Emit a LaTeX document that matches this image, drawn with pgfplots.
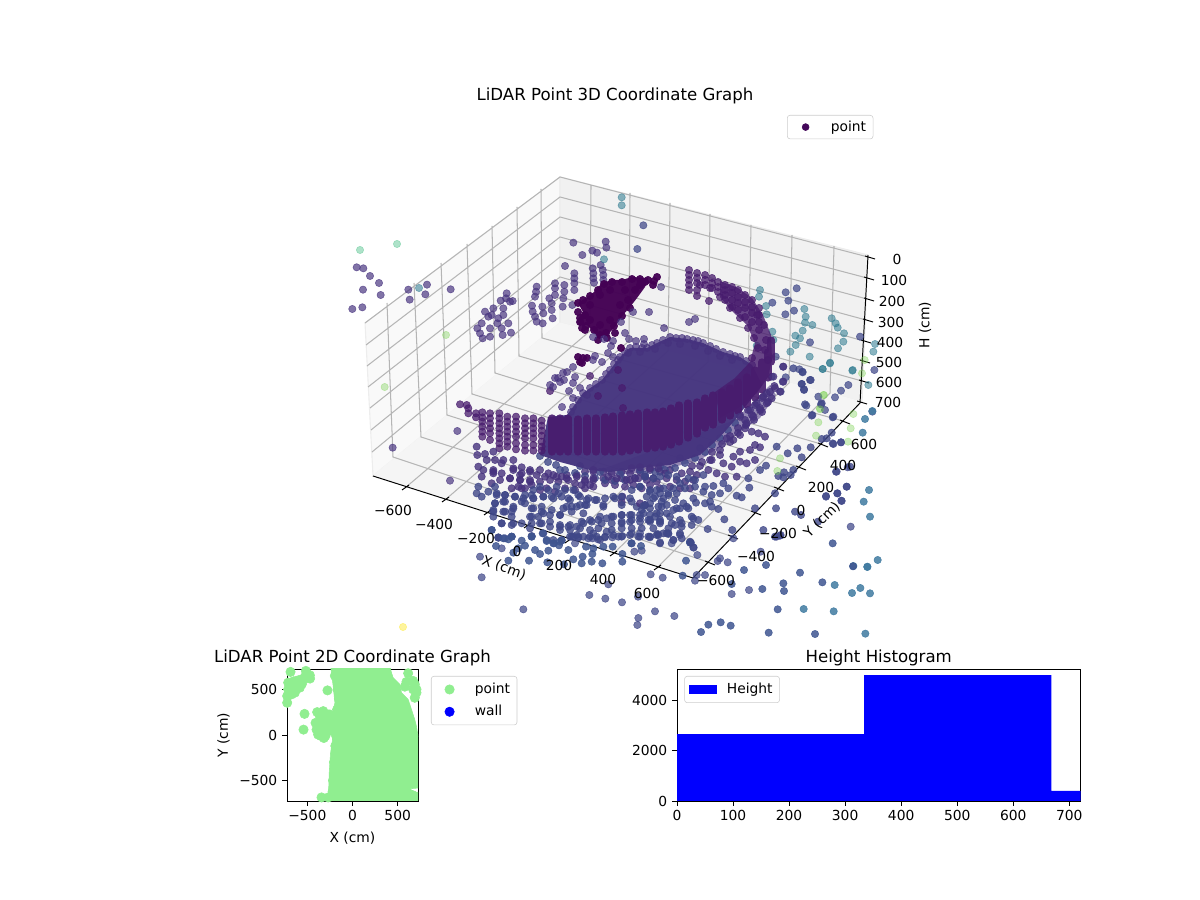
\documentclass[border=0pt]{standalone}
\usepackage{fontspec}
\setmainfont{DejaVu Sans}
\usepackage{pgfplots}
\pgfplotsset{compat=1.18}
\definecolor{cDark}{HTML}{440154}
\definecolor{cB}{HTML}{481C6E}
\definecolor{cC}{HTML}{46327E}
\definecolor{cD}{HTML}{3F4788}
\definecolor{cE}{HTML}{3E5590}
\definecolor{cF}{HTML}{3F7AA0}
\definecolor{cT}{HTML}{2A788E}
\definecolor{cG}{HTML}{7AD151}
\definecolor{cY}{HTML}{FDE725}
\definecolor{cI}{HTML}{35B779}
\definecolor{lgreen}{HTML}{90EE90}
\pgfplotsset{
 pt/.style={only marks,mark=*,mark size=2.65pt,mark options={draw=none}},
 pDark/.style={pt,color=cDark,opacity=.95},
 pB/.style={pt,color=cB,opacity=.75},
 pC/.style={pt,color=cC,opacity=.68},
 pC2/.style={pt,color=cC,opacity=.8},
 pD/.style={pt,color=cD,opacity=.72},
 pD2/.style={pt,color=cD,opacity=.8},
 pE/.style={pt,color=cE,opacity=.85},
 pF/.style={pt,color=cF,opacity=.85},
 pT/.style={pt,color=cT,opacity=.55},
 pG/.style={pt,color=cG,opacity=.38},
 pY/.style={pt,color=cY,opacity=.45},
 pI/.style={pt,color=cI,opacity=.4},
 c1/.style={x filter/.expression={x/3+340},y filter/.expression={y/3+160}},
 c2/.style={x filter/.expression={x/3+610},y filter/.expression={y/3+160}},
 c3/.style={x filter/.expression={x/3+350},y filter/.expression={y/3+390}},
 c4/.style={x filter/.expression={x/3+610},y filter/.expression={y/3+400}},
 c7/.style={x filter/.expression={x/3+450},y filter/.expression={y/3+380}},
 c8/.style={x filter/.expression={x/3+640},y filter/.expression={y/3+360}},
 c10/.style={x filter/.expression={x/3+460},y filter/.expression={y/3+530}},
 c11/.style={x filter/.expression={x/3+690},y filter/.expression={y/3+530}},
 c12/.style={x filter/.expression={x/3+490},y filter/.expression={y/3+465}},
 wleg/.style={legend image code/.code={\draw[##1,/tikz/only marks] plot coordinates {(0.36cm,0cm)};\path[draw=none,fill=none] (0cm,0cm) -- (0.93cm,0cm);}},
 flat/.style={scale only axis,tick align=outside,tick pos=left,major tick length=3.5pt,
   every tick/.style={black,line width=.6pt},axis line style={line width=.6pt},
   tick label style={font=\fontsize{10}{12}\selectfont},label style={font=\fontsize{10}{12}\selectfont},
   title style={font=\fontsize{12}{14}\selectfont,yshift=-7pt},
   legend cell align=left},
 box/.style={legend style={draw=black!20,rounded corners=2pt,font=\fontsize{10}{12}\selectfont,inner xsep=3pt,inner ysep=3pt}},
}
\begin{document}
\begin{tikzpicture}[x=1in,y=1in]
\path[use as bounding box] (0,0) rectangle (12,9);
% ---------- 3D panel, in the picture's projected coordinates
\begin{axis}[at={(3.52in,2.65in)},anchor=south west,width=5.26in,height=5.35in,scale only axis,
  xmin=352,xmax=878,ymin=100,ymax=635,y dir=reverse,hide axis,clip mode=individual,unbounded coords=jump,
  legend style={at={(axis cs:787,115)},anchor=north west,draw=black!20,rounded corners=2pt,font=\fontsize{10}{12}\selectfont,inner xsep=3pt,inner ysep=2pt},legend cell align=left]
\addlegendimage{only marks,mark=*,mark size=2.5pt,color=cDark!85!cC,mark options={draw=none},wleg}
\addlegendentry{point}
% panes
\addplot[fill=black!2.5,draw=black!7,line width=.8pt] coordinates {(373,476)(365,323)(560,177)(560,323)} --cycle;
\addplot[fill=black!5.5,draw=black!7,line width=.8pt] coordinates {(560,177)(868,255)(862,402)(560,323)} --cycle;
\addplot[fill=black!4,draw=black!4,line width=.8pt] coordinates {(373,476)(560,323)(862,402)(693,578)} --cycle;
% grid
\addplot[color=black!29,line width=.75pt] coordinates {
(405,488)(590,331)(591,185)(nan,nan)(445,500)(629,341)(630,193)(nan,nan)
(487,513)(668,351)(670,203)(nan,nan)(527,526)(708,362)(710,214)(nan,nan)
(568,541)(748,372)(751,225)(nan,nan)(613,554)(789,383)(792,235)(nan,nan)
(657,568)(830,393)(834,246)(nan,nan)
(708,562)(393,457)(387,303)(nan,nan)(731,536)(421,437)(414,283)(nan,nan)
(754,512)(447,415)(441,263)(nan,nan)(777,488)(472,394)(467,244)(nan,nan)
(799,467)(495,373)(492,226)(nan,nan)(821,444)(519,356)(517,207)(nan,nan)
(843,421)(542,338)(541,189)(nan,nan)
(365,323)(560,177)(868,257)(nan,nan)(366,345)(560,197)(867,278)(nan,nan)
(367,366)(560,217)(867,299)(nan,nan)(368,387)(560,237)(866,320)(nan,nan)
(370,408)(560,257)(864,341)(nan,nan)(371,430)(560,277)(863,361)(nan,nan)
(372,452)(560,297)(862,381)(nan,nan)
};
% axis lines and tick marks
\addplot[color=black,line width=.7pt] coordinates {
(373,476)(693,578)(860,403)(868,255)(nan,nan)
(402,490)(409,485)(nan,nan)(442,502)(449,497)(nan,nan)(484,515)(491,510)(nan,nan)
(524,528)(531,523)(nan,nan)(565,543)(572,538)(nan,nan)(610,556)(617,551)(nan,nan)(654,570)(661,565)(nan,nan)
(840,420)(850,424)(nan,nan)(818,443)(828,447)(nan,nan)(796,466)(806,470)(nan,nan)(774,487)(784,491)(nan,nan)
(751,511)(761,515)(nan,nan)(728,535)(738,539)(nan,nan)(705,561)(715,565)(nan,nan)
(865,256)(875,259)(nan,nan)(864,277)(874,280)(nan,nan)(864,298)(874,301)(nan,nan)(863,319)(873,322)(nan,nan)
(861,340)(871,343)(nan,nan)(860,360)(870,363)(nan,nan)(859,380)(869,383)(nan,nan)(857,401)(867,404)
};
% sparse back-wall points
\addplot[pI] coordinates {(360,250)(397,244)};
\addplot[pG,c1] coordinates {(318,525)(134,681)};
\addplot[pC,c1] coordinates {(50,322)(70,325)(28,345)(90,348)(117,369)(69,389)(122,405)(37,447)(67,442)(205,389)(261,374)(209,419)(256,403)(332,388)
(412,505)(425,490)(420,520)(428,535)(435,455)(445,470)(450,505)(450,530)(460,445)(455,465)(475,475)(472,490)(485,505)(488,525)(482,422)(490,445)(490,465)(500,400)(498,415)(510,425)(518,423)(505,490)(513,518)
(590,380)(588,395)(585,410)(576,437)(578,455)(585,470)(590,485)(608,490)(607,440)(610,460)(628,415)(635,430)(635,450)(638,475)(645,370)(645,385)(645,405)(673,375)(673,395)(670,415)(668,440)(703,340)(703,355)(703,370)(703,390)(697,435)(675,318)(700,248)(727,285)(757,272)(771,278)(797,245)(799,263)(782,315)(758,325)(760,340)(760,355)(762,368)(788,330)(790,345)(790,360)};
\addplot[pT,c1] coordinates {(237,384)(792,298)};
\addplot[pC,c3] coordinates {(128,173)(300,272)(322,123)};
% teal wall points
\addplot[pT,c2] coordinates {(35,112)(35,136)(450,390)(447,410)(468,438)(470,463)(487,515)(490,540)(440,557)(541,575)(557,555)(570,535)(578,512)(585,488)(587,470)(583,447)(607,495)(556,527)(665,475)(677,490)(683,503)(702,520)(700,545)(684,565)(599,590)(660,610)(638,627)(727,632)(775,675)(795,552)(790,575)};
\addplot[pG,c2] coordinates {(764,600)(756,640)(640,705)(630,745)};
\addplot[pD,c2] coordinates {(100,196)(82,267)(487,428)(527,397)(560,385)(535,422)(552,452)(526,463)(600,547)(750,530)(793,630)(715,675)(693,692)(675,712)(625,710)(787,755)(805,690)(497,590)(519,620)(568,628)(578,637)(600,660)(575,672)(518,665)(527,652)(485,650)(582,690)(512,695)(589,737)(633,733)(645,750)(670,770)(605,767)};
% floor, from far to near
\addplot[pD2,c12] coordinates {(20,90)(45,90)(75,95)(100,100)(130,100)(160,95)(190,100)(215,95)(240,105)(270,95)(295,100)(320,105)(345,100)(375,100)(420,100)(495,95)(520,100)(555,105)(580,115)(610,100)
(15,115)(45,110)(70,125)(105,115)(130,130)(155,125)(185,135)(220,130)(245,125)(270,120)(290,120)(340,125)(440,125)(480,130)(515,125)(560,130)(595,130)
(10,140)(40,140)(65,140)(125,155)(160,145)(210,150)(245,140)(280,145)(330,155)(365,155)(395,150)(420,150)(450,150)(480,150)(510,145)(540,155)(570,165)(605,155)
(10,155)(35,175)(65,155)(125,175)(150,175)(180,170)(210,185)(240,180)(275,170)(300,165)(335,175)(365,175)(395,170)(420,170)(450,170)(480,170)(510,165)(545,175)(575,185)(605,180)
(5,195)(65,180)(120,190)(160,205)(210,195)(240,195)(270,190)(300,195)(325,190)(365,195)(395,190)(425,190)(455,190)(490,190)(520,205)(570,205)
(25,218)(45,220)(65,215)(125,213)(190,225)(215,225)(245,215)(265,218)(300,215)(320,215)(345,215)(385,215)(420,210)(445,215)(475,215)(500,210)(535,205)(550,225)(600,230)(575,220)};
\addplot[pC2,c12] coordinates {(10,20)(35,25)(70,15)(95,25)(120,20)(150,15)(175,25)(200,35)(230,30)(260,30)(285,20)(310,20)(340,20)(365,25)(395,20)(420,25)(450,20)(480,15)(510,20)(540,15)(575,25)(600,20)(620,30)
(60,40)(90,45)(120,50)(150,50)(180,45)(205,50)(235,45)(255,55)(285,50)(310,45)(340,40)(365,45)(395,40)(420,45)(445,40)(470,45)(500,50)(530,40)(560,45)(585,50)(610,45)
(5,55)(65,70)(95,70)(125,60)(150,75)(170,70)(195,80)(225,70)(255,75)(285,70)(310,65)(345,55)(375,60)(405,65)(430,60)(455,70)(480,60)(510,70)(540,65)(570,70)(600,70)
(397,95)(395,112)(450,115)(465,120)};
\addplot[fill=cC,draw=none,opacity=.55] coordinates {(735,420)(750,405)(770,385)(776,395)(760,418)(740,432)(720,447)(700,460)(670,468)(640,473)(610,475)(600,470)} --cycle;
\addplot[pD2] coordinates {(540,456)(548,462)(556,465)(565,470)(575,473)(585,476)(595,478)(605,480)(615,481)(625,480)(635,478)(645,475)(655,472)(665,470)(675,468)(685,463)(695,458)(705,452)(712,445)(720,438)(728,430)(735,423)(560,470)(580,466)(600,472)(620,474)(640,470)(660,466)(680,458)(700,448)};
\addplot[pC2] coordinates {(740,415)(748,410)(755,405)(762,398)(770,392)(775,388)(745,420)(752,415)(760,408)(768,402)(738,428)(746,425)(754,420)(762,412)(730,436)(738,433)(722,444)(730,442)(712,452)(720,450)(702,462)(710,460)(692,466)(700,466)};
% dense bands and disc
\addplot[fill=cC!90!cD,draw=none,opacity=.97] coordinates {(548,417)(567,415)(573,407)(583,393)(602,380)(610,370)(620,357)(630,348)(647,348)(657,343)(670,337)(687,339)(703,343)(723,352)(740,357)(752,365)(762,385)(735,420)(720,437)(700,455)(670,465)(640,468)(610,472)(590,470)(560,462)(540,455)} --cycle;
\addplot[pC] coordinates {(573,407)(578,400)(583,393)(590,388)(596,384)(602,380)(606,374)(610,370)(614,364)(620,357)(625,352)(630,348)(636,347)(642,348)(647,348)(652,345)(657,343)(663,340)(670,337)(676,338)(682,338)(687,339)(693,340)(698,341)(703,343)(710,346)(716,349)(723,352)(730,354)(735,356)(740,357)(746,361)(752,365)(628,353)(640,352)(655,349)(668,343)(680,344)(695,346)(708,351)(720,356)(732,360)};
\addplot[fill=cB,draw=none,opacity=.8] coordinates {(720,281)(738,288)(752,298)(763,315)(771,335)(772,360)(768,377)(757,393)(740,407)(720,418)(715,392)(735,378)(750,362)(755,343)(747,325)(733,312)(720,297)} --cycle;
\addplot[color=cB,opacity=.9,line width=5.3pt,line cap=round] coordinates {
(552,418)(552,452)(nan,nan)(560,418)(560,452)(nan,nan)(568,418)(568,452)(nan,nan)(578,419)(578,452)(nan,nan)
(587,418)(587,452)(nan,nan)(596,418)(596,452)(nan,nan)(605,417)(605,452)(nan,nan)(613,416)(613,452)(nan,nan)
(622,415)(622,452)(nan,nan)(630,414)(630,451)(nan,nan)(638,413)(638,450)(nan,nan)(647,412)(647,449)(nan,nan)
(655,412)(655,448)(nan,nan)(663,411)(663,447)(nan,nan)(671,408)(671,445)(nan,nan)(679,405)(679,442)(nan,nan)
(688,403)(688,438)(nan,nan)(697,402)(697,434)(nan,nan)(705,398)(705,428)(nan,nan)(713,395)(713,425)(nan,nan)
(722,392)(722,420)(nan,nan)(730,388)(730,416)(nan,nan)(738,382)(738,411)(nan,nan)(747,377)(747,405)(nan,nan)
(755,370)(755,398)(nan,nan)(762,362)(762,390)(nan,nan)(768,352)(768,378)(nan,nan)(771,340)(771,362)};
\addplot[fill=cDark,draw=none,opacity=.97] coordinates {(578,303)(593,293)(602,283)(612,280)(622,280)(632,277)(648,278)(645,287)(637,298)(630,307)(623,315)(615,327)(607,335)(598,337)(590,328)(587,325)(578,325)(577,320)(583,312)} --cycle;
\addplot[pDark] coordinates {(578,303)(583,300)(590,296)(598,290)(604,284)(612,282)(622,282)(632,279)(640,279)(648,280)(580,322)(586,326)(594,330)(600,335)(606,333)(614,326)(622,316)(630,308)(578,312)(580,318)(657,277)(654,281)(653,285)(640,285)(645,282)(635,290)(628,300)(620,305)(610,320)(600,325)(590,320)(585,315)(590,305)(600,295)(610,290)(625,290)(615,333)(607,338)(598,340)(585,330)(582,328)(621,348)(578,357)(583,358)(582,363)(587,358)(580,362)};
\addplot[pB] coordinates {(618,370)(590,376)(598,396)(622,388)(623,408)(550,391)
(689,270)(689,275)(689,280)(689,285)(689,290)(697,273)(697,278)(697,283)(697,290)(697,296)(705,275)(705,280)(705,285)(712,278)(712,283)(712,288)(718,282)(718,287)(718,292)(725,285)(725,290)(725,295)(725,300)(732,287)(732,293)(732,300)(732,307)(738,290)(738,297)(738,303)(738,310)(745,295)(745,302)(745,308)(745,317)(752,300)(752,307)(752,313)(752,322)(759,308)(759,315)(759,322)(759,330)(709,301)
(700,285)(710,288)(720,297)(730,308)(740,318)(748,328)(754,338)(758,348)(752,358)(766,340)(764,325)(757,315)(765,350)(768,360)};
\addplot[pC] coordinates {(661,287)(649,312)(664,328)(689,322)(695,319)(625,333)(633,312)(621,322)(593,337)(604,339)(613,341)(611,346)(629,339)(636,341)(644,339)(644,344)
(550,385)(555,378)(563,373)(553,387)(560,382)(567,372)(595,356)(593,360)(602,362)(608,353)(613,357)(618,360)(573,367)(575,377)(573,383)(580,388)(569,391)(573,398)(587,395)(562,407)(571,412)(564,380)(558,378)};
% columns left of the band, tail and floor
\addplot[pB,c7] coordinates {(30,73)(50,75)(55,85)(55,100)(78,100)(78,112)
(97,97)(97,112)(97,125)(97,140)(97,155)(97,170)(120,100)(120,115)(120,130)(120,145)(120,160)(120,180)
(148,100)(148,115)(148,130)(148,145)(148,160)(148,175)(148,190)(148,205)(172,110)(172,125)(172,140)(172,155)(172,170)(172,185)(172,200)
(198,110)(198,125)(198,140)(198,155)(198,170)(198,190)(198,208)(225,115)(225,130)(225,145)(225,160)(225,175)(225,195)(225,212)
(250,115)(250,130)(250,145)(250,160)(250,175)(250,195)(250,212)(275,122)(275,137)(275,152)(275,167)(275,185)(275,200)(275,212)};
\addplot[pC2,c7] coordinates {(80,200)(82,225)(105,222)(130,215)(135,240)(160,240)(110,240)(85,260)(100,270)(130,270)(155,250)(190,240)(215,262)(240,270)(190,265)(210,285)(180,295)(150,300)(130,280)(95,290)(260,285)(285,290)(310,285)(335,290)(350,295)(380,290)(405,300)(430,270)(430,295)(420,315)(395,315)(545,265)(570,262)(600,265)(625,265)(645,280)(610,295)(585,290)(555,295)(530,300)(500,295)(475,290)(210,300)(240,300)(205,320)(225,325)};
\addplot[pD2,c7] coordinates {(135,320)(115,335)(85,320)(80,340)(95,350)(140,340)(165,345)(195,350)(225,345)(245,345)(370,330)(345,330)(320,320)(295,330)(270,320)(250,330)(160,365)(135,370)(130,390)(165,395)(190,385)(215,365)(250,355)(280,350)(305,350)(325,340)(355,355)(385,345)(410,360)(435,360)(460,375)(490,350)(515,350)(545,330)(570,320)(600,330)(620,330)(640,325)(655,345)(635,365)(600,370)(580,378)(545,365)(515,375)(405,375)(380,380)(350,380)(330,405)(300,405)(275,395)(245,385)(240,410)(215,430)(190,430)(155,430)(515,430)(545,420)(570,415)(600,420)(630,425)(650,400)(620,400)(580,400)(545,405)(515,405)(490,410)(470,415)(445,420)(425,425)(400,430)(380,440)(355,440)(330,435)(300,440)(275,430)(265,410)
(360,470)(380,465)(400,470)(430,460)(450,480)(470,455)(490,465)(515,470)(545,490)(570,470)(600,470)(625,465)(630,490)(650,460)};
\addplot[pE,c7] coordinates {(125,450)(145,472)(185,470)(245,470)(290,480)(310,490)(330,485)};
% floor on the right
\addplot[pC2,c8] coordinates {(300,170)(320,190)(340,170)(360,150)(380,130)(395,115)(370,110)(350,130)(330,150)(315,205)(335,215)(355,220)(375,230)(300,225)(280,240)(260,235)(345,255)(360,262)(330,270)(300,275)(280,290)(300,305)(320,310)(345,300)(240,285)(215,300)(250,310)(275,320)(205,330)(230,340)(255,350)(290,350)
(430,20)(400,50)(430,65)(403,78)(380,100)(420,95)};
\addplot[pD2,c8] coordinates {(190,345)(165,360)(145,355)(120,370)(135,385)(165,380)(195,380)(220,378)(250,370)(265,385)(240,400)(215,405)(190,395)(100,385)(85,400)(110,400)(60,400)(40,415)(20,410)(55,440)(80,435)(100,450)(120,445)(140,440)(168,428)(195,430)(210,425)(215,440)(235,447)(175,480)(160,475)(125,490)(105,495)(85,505)(60,490)(45,470)(25,480)(5,450)(15,435)(30,395)(60,350)(85,345)(110,350)(40,355)(15,350)(0,380)
(325,355)(460,25)(487,35)(512,60)(485,72)(492,88)(545,130)(495,133)(517,165)(578,172)(575,218)(560,235)(545,237)(580,252)(603,247)(512,262)(472,265)(443,280)(410,260)(485,292)(460,330)(432,337)(415,348)(452,345)(430,352)(360,330)(378,317)(328,383)(405,400)(305,412)(290,407)(345,445)(408,445)(465,455)(483,465)(534,485)(558,410)(592,400)(604,422)(620,380)(630,320)(588,335)(370,510)(277,510)(253,478)(203,507)(150,547)(160,562)(405,530)(420,527)};
\addplot[pT,c8] coordinates {(548,27)(570,8)(638,30)};
\addplot[pG,c8] coordinates {(552,105)(540,148)(535,187)(640,162)(632,205)(528,227)(624,245)(420,295)(412,333)};
\addplot[pF,c4] coordinates {(765,57)(787,33)(758,98)(777,270)(761,305)(780,350)(805,478)(730,498)(772,500)};
\addplot[pD,c4] coordinates {(693,127)(668,130)(713,202)(680,215)(710,260)(682,280)(648,288)(695,303)(722,380)};
% lower outliers
\addplot[pD,c10] coordinates {(60,80)(115,23)(125,55)(340,20)(355,20)(345,40)(385,25)(398,25)(414,28)(435,22)(457,22)(487,18)(515,10)(540,10)(570,22)(593,12)(625,12)(640,30)(635,40)(660,15)(523,65)(545,62)(600,37)(65,142)(190,238)(388,195)(436,206)(486,217)(534,200)(445,163)(585,244)(535,264)(532,285)(643,258)(572,133)(608,143)};
\addplot[pE,c10] coordinates {(108,48)(145,92)(160,68)(175,55)(195,47)(185,32)(155,20)(145,28)(130,25)(215,20)(225,60)(240,72)(265,62)(207,92)(262,97)(282,40)(297,46)(305,32)(325,60)(248,10)(260,33)(340,88)(312,103)(365,100)(368,80)(395,95)(427,100)(397,72)(400,55)(378,50)(430,50)(458,50)(487,72)(487,95)(543,48)(514,40)(690,38)(678,92)(668,137)(207,320)(487,318)};
\addplot[pD,c11] coordinates {(15,152)(20,135)(45,135)(177,180)(113,97)(212,65)(90,85)(83,93)(22,75)(11,53)(3,38)(130,25)(260,20)(272,15)(125,192)};
\addplot[pE,c11] coordinates {(125,162)(217,177)(162,120)(228,105)(428,40)(330,128)(280,160)(282,183)(397,157)(489,109)(263,238)(55,284)(92,277)(122,287)(33,306)(102,316)(236,308)(375,312)(418,316)};
\addplot[pF,c11] coordinates {(434,165)(532,111)(563,90)(486,189)(511,174)(540,190)(341,237)(431,244)(526,311)};
\addplot[pY] coordinates {(403,627)};
% text
\node at (axis cs:615,96) {\fontsize{12}{14}\selectfont LiDAR Point 3D Coordinate Graph};
\foreach \x/\y/\t in {393/510/−600,434/524/−400,476/538/−200,517/551/0,559/565/200,603/579/400,647/593/600,
  716/580/−600,756/556/−400,778/533/−200,801/510/0,821/487/200,843/465/400,864/444/600,
  897/259/0,894/280/100,892/301/200,891/322/300,890/342/400,889/362/500,889/382/600,888/402/700}
  {\edef\tmp{\noexpand\node[inner sep=0pt] at (axis cs:\x,\y) {\noexpand\fontsize{10}{12}\noexpand\selectfont \t};}\tmp}
\node[rotate=-20] at (axis cs:504,568) {\fontsize{10}{12}\selectfont X (cm)};
\node[rotate=45] at (axis cs:822,520) {\fontsize{10}{12}\selectfont Y (cm)};
\node[rotate=90] at (axis cs:925,325) {\fontsize{10}{12}\selectfont H (cm)};
\end{axis}
% ---------- 2D panel
\begin{axis}[flat,box,at={(2.87in,0.99in)},anchor=south west,width=1.31in,height=1.32in,
  xmin=-725,xmax=725,ymin=-725,ymax=725,xtick={-500,0,500},ytick={-500,0,500},
  xticklabels={−500,0,500},yticklabels={−500,0,500},
  title={LiDAR Point 2D Coordinate Graph},xlabel={X (cm)},ylabel={Y (cm)},
  xlabel style={yshift=-1pt},ylabel style={yshift=0pt},
  legend style={at={(1.099,0.947)},anchor=north west,row sep=3pt}]
\addlegendimage{only marks,mark=*,mark size=3.4pt,color=lgreen,mark options={draw=none},wleg}
\addlegendentry{point}
\addlegendimage{only marks,mark=*,mark size=3.4pt,color=blue,mark options={draw=none},wleg}
\addlegendentry{wall}
\addplot[fill=lgreen,draw=lgreen] coordinates {(-243,760)(-214,538)(-195,354)(-232,170)(-221,-52)(-243,-199)(-258,-420)(-269,-760)(760,-760)(760,-630)(670,-625)(640,-590)(760,-580)(760,-15)(726,-15)(708,96)(689,170)(653,280)(616,391)(542,465)(524,557)(450,630)(431,686)(413,760)} --cycle;
\addplot[only marks,mark=*,mark size=3.4pt,color=lgreen,mark options={draw=none}] coordinates {
(-277,490)(-723,428)(-638,465)(-693,538)(-619,594)(-527,619)(-472,656)(-516,704)(-686,693)(-712,575)(-583,583)(-737,243)(-531,232)(-542,59)(-391,251)(-317,214)(-409,133)(-354,77)(-380,4)(-317,-33)(-269,41)(-288,133)(-269,225)(-343,170)(-343,-686)(-269,-686)(616,678)(597,583)(671,594)(579,531)(708,465)(689,557)(726,280)(664,-660)
(-712,501)(-656,538)(-601,557)(-564,612)(-583,520)(-638,483)(-675,446)(-723,354)(-343,133)(-306,114)(-343,4)(-306,41)(-398,59)(-269,151)(-324,262)(-251,225)(-361,206)(708,501)(689,409)(671,501)
(-195,650)(-165,500)(-150,400)(-170,280)(-190,120)(-185,0)(-190,-120)(-205,-300)(-215,-500)(-220,-620)
(-650,590)(-600,600)(-690,500)(-660,470)(-560,560)(-520,650)(-470,620)
(-350,-10)(-300,-10)(-330,60)(-360,120)(-300,170)(-270,100)};
\end{axis}
% ---------- histogram
\begin{axis}[flat,box,at={(6.77in,0.99in)},anchor=south west,width=4.035in,height=1.32in,
  xmin=0,xmax=720,ymin=0,ymax=5250,xtick={0,100,...,700},ytick={0,2000,4000},
  /pgf/number format/1000 sep={},
  /pgf/number format/assume math mode=true,
  title={Height Histogram},
  legend style={at={(0.018,0.947)},anchor=north west},
  legend image code/.code={\fill[blue,sharp corners] (0cm,-0.125cm) rectangle (0.72cm,0.125cm);\path[draw=none,fill=none] (0cm,-0.15cm) -- (0.9cm,0.15cm);}]
\addplot[const plot,fill=blue,draw=none] coordinates {(0,2664)(334,5010)(668,398)(1002,398)} \closedcycle;
\addlegendentry{Height}
\end{axis}
\end{tikzpicture}
\end{document}
